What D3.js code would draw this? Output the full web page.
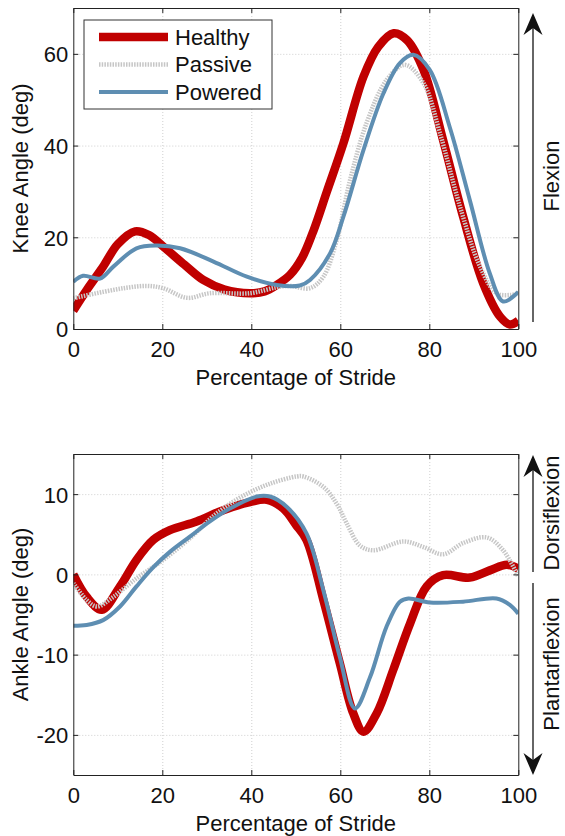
<!DOCTYPE html>
<html>
<head>
<meta charset="utf-8">
<script src="https://cdn.jsdelivr.net/npm/d3@7"></script>
<style>
  body { margin: 0; background: #fff; }
  text { font-family: "Liberation Sans", Arial, Helvetica, sans-serif; fill: #111; }
</style>
</head>
<body>
<div id="draw_here"></div>
<script type="text/javascript">
    // ---- data (x = % stride, y = deg) ----
    xTicks = [0, 20, 40, 60, 80, 100]
    kneeTicks = [0, 20, 40, 60]
    ankleTicks = [-20, -10, 0, 10]
    seriesNames = ["Healthy", "Passive", "Powered"]

    kneeHealthyX = [0, 3, 6.7, 10, 13.9, 17, 20.2, 25, 29.2, 34, 39.7, 43, 45.7, 48.7, 51.4, 54, 57, 60.7, 65.2, 68.5, 72, 75, 78.7, 83.1, 87.6, 92.1, 95.9, 98.1, 100]
    kneeHealthyY = [4, 8.5, 13.6, 18.5, 21.3, 20.5, 18, 14, 10.7, 8.6, 7.8, 8.2, 9.6, 11.8, 15.5, 21.5, 30, 40.5, 55, 61.5, 64.5, 63, 56.5, 41.2, 24.5, 10, 2.7, 1, 1.8]

    kneePassiveX = [0, 6.7, 12, 16.5, 20.2, 25.5, 30.7, 39.7, 45.7, 48.7, 53.2, 56.2, 59.2, 62.2, 65.9, 70.4, 74.5, 78.7, 82.4, 86.9, 91.4, 95.1, 98.1, 100]
    kneePassiveY = [6.7, 8.1, 9, 9.4, 8.9, 6.8, 7.8, 7.8, 9.1, 9.4, 8.9, 11.4, 19.4, 32.5, 44.9, 54.3, 57.6, 53.6, 42.7, 26.7, 13.6, 7.8, 7.4, 7.8]

    kneePoweredX = [0, 2.2, 6, 9, 14.2, 18.7, 24, 31.5, 39, 45.7, 50.9, 53.2, 57.7, 60.7, 65.2, 69.7, 73.4, 76.4, 80.1, 84.6, 89.1, 93.6, 96.6, 100]
    kneePoweredY = [10.3, 11.6, 11, 13.6, 17.6, 18.2, 17.6, 14.7, 11.4, 9.6, 9.5, 10.7, 16.5, 24.5, 39, 51.4, 58, 59.8, 56.5, 44, 28.1, 12.1, 6, 8.1]

    ankleHealthyX = [0, 3, 6.4, 10.5, 14.2, 18, 21.7, 27.7, 33.7, 39.7, 43.5, 47.2, 50, 52.4, 56.2, 59.9, 62.9, 65.2, 68.2, 71.9, 75.7, 79.4, 83.1, 89.1, 93.6, 97.4, 100]
    ankleHealthyY = [0, -2.8, -4.4, -1.5, 1.8, 4.3, 5.5, 6.6, 8.0, 9.0, 9.3, 8.2, 6.2, 4.3, -3.2, -11.1, -17.3, -19.6, -17.3, -11.9, -6.1, -1.5, -0.1, -0.4, 0.5, 1.2, 0.7]

    anklePassiveX = [0, 3, 5.3, 9, 14.2, 20.2, 26.2, 32.2, 38.2, 44.2, 50.2, 51.7, 56.2, 59.2, 61.4, 64.4, 67.4, 74.2, 78.7, 83.1, 87.6, 92.9, 96.6, 100]
    anklePassiveY = [-1.1, -3.2, -4.0, -2.8, -0.5, 1.8, 4.5, 7.6, 9.8, 11.3, 12.2, 12.2, 10.9, 8.8, 6.4, 3.6, 3.0, 4.1, 3.4, 2.5, 3.9, 4.6, 3.0, -0.3]

    anklePoweredX = [0, 3, 6.7, 10.5, 14.2, 18, 21.7, 26.2, 30.7, 35.2, 41.2, 44.2, 48, 52.4, 56.2, 59.9, 63.3, 66.7, 70.4, 73.4, 75.3, 80.1, 87.6, 95.1, 98.1, 100]
    anklePoweredY = [-6.4, -6.3, -5.7, -4.0, -1.5, 0.9, 2.8, 4.7, 6.6, 8.2, 9.7, 9.7, 8.4, 5.1, -2.0, -10.3, -16.7, -12.8, -6.5, -3.4, -3.0, -3.5, -3.4, -3.0, -3.8, -4.9]

    // ---- styles ----
    canvas = ({width: 565, height: 836})
    plotX = [73.3, 518.3]
    c_red = "#c00000"
    c_gray = "#c6c6c6"
    c_blue = "#5e8eb2"
    styles = {
        Healthy: {color: c_red, width: 8.5, dash: null},
        Passive: {color: c_gray, width: 4.5, dash: "1.5,1.2"},
        Powered: {color: c_blue, width: 4, dash: null}
    }

    toPoints = (xs, ys) => d3.zip(xs, ys)

    var svg = d3.select("div#draw_here").append("svg")
        .attr("width", canvas.width)
        .attr("height", canvas.height)
        .attr("viewBox", [0, 0, canvas.width, canvas.height]);

    x = d3.scaleLinear().domain([0, 100]).range(plotX)

    line = (yScale) => d3.line()
        .x(d => x(d[0]))
        .y(d => yScale(d[1]))
        .curve(d3.curveCatmullRom.alpha(0.5))

    function drawPanel(p) {
        const y = d3.scaleLinear().domain(p.ylim).range([p.bottom, p.top])
        const g = svg.append("g")

        // grid
        g.append("g")
            .attr("transform", `translate(0,${p.bottom})`)
            .call(d3.axisBottom(x).tickValues(xTicks.slice(1, -1)).tickSize(-(p.bottom - p.top)).tickFormat(""))
            .call(s => s.select(".domain").remove())
            .selectAll("line").attr("stroke", "#cfcfcf").attr("stroke-dasharray", "1,2")
        g.append("g")
            .attr("transform", `translate(${plotX[0]},0)`)
            .call(d3.axisLeft(y).tickValues(p.ticks.filter(t => y(t) > p.top + 1 && y(t) < p.bottom - 1)).tickSize(-(plotX[1] - plotX[0])).tickFormat(""))
            .call(s => s.select(".domain").remove())
            .selectAll("line").attr("stroke", "#cfcfcf").attr("stroke-dasharray", "1,2")

        // curves
        const clipId = "clip_" + p.name
        g.append("clipPath").attr("id", clipId).append("rect")
            .attr("x", plotX[0]).attr("y", p.top)
            .attr("width", plotX[1] - plotX[0]).attr("height", p.bottom - p.top)
        p.series.forEach(s => {
            const st = styles[s.name]
            g.append("path")
                .attr("clip-path", `url(#${clipId})`)
                .attr("fill", "none")
                .attr("stroke", st.color)
                .attr("stroke-width", st.width)
                .attr("stroke-dasharray", st.dash)
                .attr("stroke-linejoin", "round")
                .attr("d", line(y)(s.points))
        })

        // axes (ticks pointing in, on all four sides)
        const axisStyle = a => {
            a.select(".domain").attr("stroke", "#222")
            a.selectAll(".tick line").attr("stroke", "#222")
            a.selectAll(".tick text").attr("font-size", 22).attr("fill", "#111")
                .attr("font-family", "'Liberation Sans', Arial, sans-serif")
        }
        const fmt = d => String(d)
        g.append("g")
            .attr("transform", `translate(0,${p.bottom})`)
            .call(d3.axisBottom(x).tickValues(xTicks).tickFormat(fmt).tickSizeInner(-5).tickSizeOuter(0).tickPadding(12))
            .call(axisStyle)
        g.append("g")
            .attr("transform", `translate(0,${p.top})`)
            .call(d3.axisTop(x).tickValues(xTicks).tickSizeInner(-5).tickSizeOuter(0).tickFormat(""))
            .call(axisStyle)
        g.append("g")
            .attr("transform", `translate(${plotX[0]},0)`)
            .call(d3.axisLeft(y).tickValues(p.ticks).tickFormat(fmt).tickSizeInner(-5).tickSizeOuter(0).tickPadding(5))
            .call(axisStyle)
            .selectAll(".tick text").attr("dy", "0.36em")
        g.append("g")
            .attr("transform", `translate(${plotX[1]},0)`)
            .call(d3.axisRight(y).tickValues(p.ticks).tickSizeInner(-5).tickSizeOuter(0).tickFormat(""))
            .call(axisStyle)

        // titles
        g.append("text")
            .attr("x", (plotX[0] + plotX[1]) / 2)
            .attr("y", p.xTitleY)
            .attr("text-anchor", "middle")
            .attr("font-size", 22)
            .text("Percentage of Stride")
        g.append("text")
            .attr("transform", `translate(28,${(p.top + p.bottom) / 2}) rotate(-90)`)
            .attr("text-anchor", "middle")
            .attr("font-size", 22)
            .text(p.yTitle)

        return y
    }

    function arrow(x0, yFrom, yTip) {
        const dir = yTip < yFrom ? 1 : -1
        svg.append("line")
            .attr("x1", x0).attr("x2", x0)
            .attr("y1", yFrom).attr("y2", yTip + dir * 14)
            .attr("stroke", "#666").attr("stroke-width", 2)
        svg.append("path")
            .attr("fill", "#111")
            .attr("d", `M${x0},${yTip} L${x0 - 9.5},${yTip + dir * 22} L${x0},${yTip + dir * 15} L${x0 + 9.5},${yTip + dir * 22} Z`)
    }

    function sideLabel(txt, yMid) {
        svg.append("text")
            .attr("transform", `translate(559,${yMid}) rotate(-90)`)
            .attr("text-anchor", "middle")
            .attr("font-size", 22)
            .text(txt)
    }

    // ---- knee ----
    drawPanel({
        name: "knee", top: 8, bottom: 329, ylim: [0, 70], ticks: kneeTicks,
        yTitle: "Knee Angle (deg)", xTitleY: 385,
        series: [
            {name: "Healthy", points: toPoints(kneeHealthyX, kneeHealthyY)},
            {name: "Passive", points: toPoints(kneePassiveX, kneePassiveY)},
            {name: "Powered", points: toPoints(kneePoweredX, kneePoweredY)}
        ]
    })

    // ---- ankle ----
    drawPanel({
        name: "ankle", top: 454, bottom: 775, ylim: [-25, 15], ticks: ankleTicks,
        yTitle: "Ankle Angle (deg)", xTitleY: 831,
        series: [
            {name: "Healthy", points: toPoints(ankleHealthyX, ankleHealthyY)},
            {name: "Passive", points: toPoints(anklePassiveX, anklePassiveY)},
            {name: "Powered", points: toPoints(anklePoweredX, anklePoweredY)}
        ]
    })

    // ---- legend ----
    legend = svg.append("g")
    legend.append("rect")
        .attr("x", 84).attr("y", 20).attr("width", 188).attr("height", 89)
        .attr("fill", "#fff").attr("stroke", "#333").attr("stroke-width", 1)
    seriesNames.forEach((n, i) => {
        const yy = 37 + i * 27.5
        const st = styles[n]
        legend.append("line")
            .attr("x1", 99).attr("x2", 168).attr("y1", yy).attr("y2", yy)
            .attr("stroke", st.color).attr("stroke-width", st.width)
            .attr("stroke-dasharray", st.dash)
        legend.append("text")
            .attr("x", 175).attr("y", yy).attr("dy", "0.36em")
            .attr("font-size", 22)
            .text(n)
    })

    // ---- direction arrows ----
    arrow(533, 322, 13)
    sideLabel("Flexion", 176)
    arrow(533, 572, 455)
    sideLabel("Dorsiflexion", 513)
    arrow(533, 583, 775)
    sideLabel("Plantarflexion", 664)
</script>
</body>
</html>
